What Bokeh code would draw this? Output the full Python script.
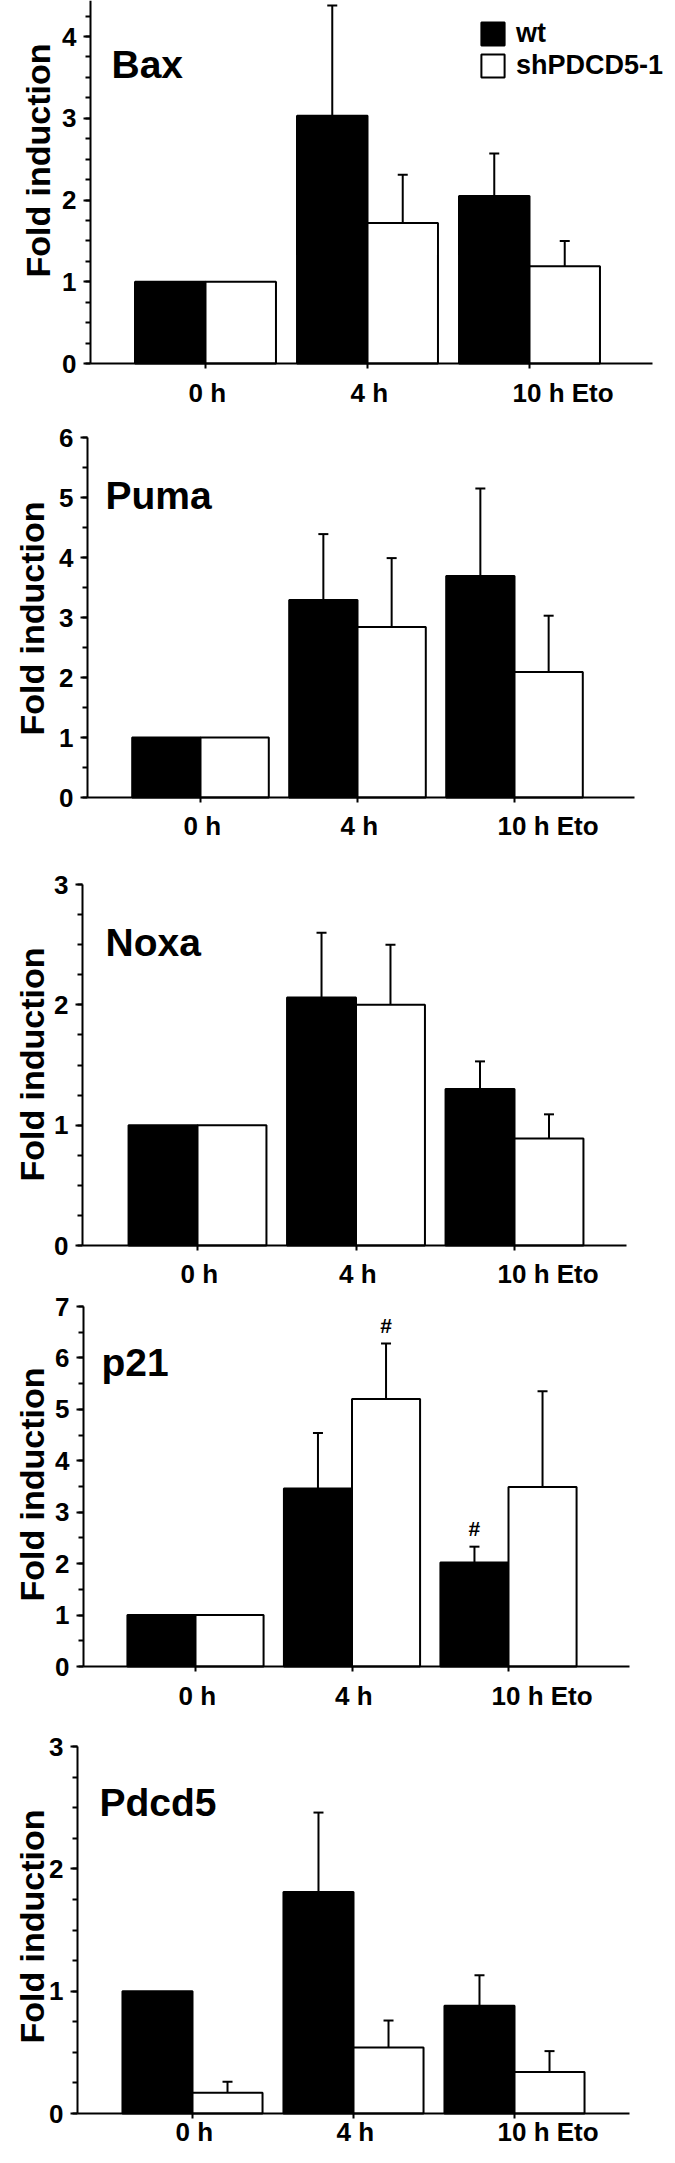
import math
import numpy as np
from bokeh.plotting import figure
from bokeh.models import (ColumnDataSource, Range1d, SingleIntervalTicker, FixedTicker,
                          Whisker, TeeHead, Label, CustomJSTickFormatter)
from bokeh.layouts import column
from bokeh.core.properties import value
from bokeh.embed import file_html
from bokeh.resources import INLINE

# ---------------- data ----------------
categories = ["0 h", "4 h", "10 h Eto"]
series_names = ["wt", "shPDCD5-1"]
genes = ["Bax", "Puma", "Noxa", "p21", "Pdcd5"]
y_title = "Fold induction"

bax_wt = [1.00, 3.03, 2.05]
bax_wt_err = [0.00, 1.35, 0.52]
bax_sh = [1.00, 1.72, 1.19]
bax_sh_err = [0.00, 0.59, 0.31]

puma_wt = [1.00, 3.29, 3.69]
puma_wt_err = [0.00, 1.10, 1.46]
puma_sh = [1.00, 2.84, 2.09]
puma_sh_err = [0.00, 1.15, 0.94]

noxa_wt = [1.00, 2.06, 1.30]
noxa_wt_err = [0.00, 0.54, 0.23]
noxa_sh = [1.00, 2.00, 0.89]
noxa_sh_err = [0.00, 0.50, 0.20]

p21_wt = [1.00, 3.46, 2.02]
p21_wt_err = [0.00, 1.08, 0.31]
p21_sh = [1.00, 5.20, 3.49]
p21_sh_err = [0.00, 1.08, 1.86]
p21_sig_wt = ["", "", "#"]
p21_sig_sh = ["", "#", ""]

pdcd5_wt = [1.00, 1.81, 0.88]
pdcd5_wt_err = [0.00, 0.65, 0.25]
pdcd5_sh = [0.17, 0.54, 0.34]
pdcd5_sh_err = [0.09, 0.22, 0.17]

y_axis_max = [4.5, 6, 3, 7, 3]
y_minor = [4, 2, 4, 2, 4]

# ---------------- layout (pixel positions on the page) ----------------
FONT = "Liberation Sans"
BAR_W = 0.435
PAGE_W = 675
MARGIN = 8
# top/bottom: figure edges; y0: zero line; ytop: pixel row of value ytop_val;
# ax: y-axis x; t0/t2: first/last category tick; ar: x-axis right end;
# lx/ly: baseline x and centre y of the rotated axis title
layouts = [
    dict(top=8, bottom=425, y0=371, ytop_val=4.0, ytop=44, ax=98, t0=213, t2=537, ar=660,
         lx=45, ly=168, tdx=21, tdy=299, cdy=29),
    dict(top=425, bottom=868, y0=805, ytop_val=6.0, ytop=445, ax=95, t0=208, t2=522, ar=642,
         lx=39, ly=626, tdx=18, tdy=302, cdy=28),
    dict(top=868, bottom=1299, y0=1253, ytop_val=3.0, ytop=892, ax=90, t0=205, t2=522, ar=634,
         lx=39, ly=1072, tdx=23, tdy=303, cdy=28),
    dict(top=1299, bottom=1735, y0=1674, ytop_val=7.0, ytop=1314, ax=91, t0=203, t2=516, ar=637,
         lx=39, ly=1492, tdx=18, tdy=304, cdy=29),
    dict(top=1735, bottom=2155, y0=2121, ytop_val=3.0, ytop=1754, ax=85, t0=200, t2=522, ar=637,
         lx=39, ly=1934, tdx=22, tdy=311, cdy=18),
]
LEGEND_LOC = (478, 336)


def make_panel(i, name, wt, wt_err, sh, sh_err, sig_wt=None, sig_sh=None, legend=False):
    lay = layouts[i]
    n = len(categories)
    ppx = (lay["t2"] - lay["t0"]) / (n - 1)              # px per category step
    ppu = (lay["y0"] - lay["ytop"]) / lay["ytop_val"]    # px per y unit
    x_start = -(lay["t0"] - MARGIN) / ppx
    x_axis = -(lay["t0"] - lay["ax"]) / ppx
    x_axis_end = (n - 1) + (lay["ar"] - lay["t2"]) / ppx
    x_end = (n - 1) + (PAGE_W - lay["t2"]) / ppx
    y_start = -(lay["bottom"] - lay["y0"]) / ppu
    y_end = (lay["y0"] - lay["top"]) / ppu

    p = figure(width=PAGE_W - MARGIN, height=lay["bottom"] - lay["top"],
               x_range=Range1d(x_start, x_end), y_range=Range1d(y_start, y_end),
               output_backend="svg", toolbar_location=None,
               min_border_left=0, min_border_right=0,
               min_border_top=0, min_border_bottom=0)
    p.outline_line_color = None
    p.xgrid.visible = False
    p.ygrid.visible = False
    p.background_fill_color = "white"
    p.border_fill_color = "white"

    idx = np.arange(n)
    groups = [(0, wt, wt_err, sig_wt, -BAR_W / 2, "black"),
              (1, sh, sh_err, sig_sh, BAR_W / 2, "white")]
    for k, vals, errs, sig, off, fill in groups:
        vals = np.array(vals, dtype=float)
        errs = np.array(errs, dtype=float)
        src = ColumnDataSource(dict(x=idx + off, top=vals))
        kw = dict(legend_label=series_names[k]) if legend else {}
        p.vbar(x="x", top="top", bottom=0, width=BAR_W, source=src,
               fill_color=fill, line_color="black", line_width=2, **kw)
        m = errs > 0
        esrc = ColumnDataSource(dict(base=(idx + off)[m], lower=vals[m], upper=(vals + errs)[m]))
        p.add_layout(Whisker(base="base", lower="lower", upper="upper", source=esrc,
                             lower_head=None,
                             upper_head=TeeHead(size=10, line_width=2, line_color="black"),
                             line_width=2, line_color="black", level="annotation"))
        if sig is not None:
            sm = np.array([s != "" for s in sig])
            ssrc = ColumnDataSource(dict(x=(idx + off)[sm], y=(vals + errs)[sm],
                                         t=[s for s in sig if s != ""]))
            p.text(x="x", y="y", text="t", source=ssrc, text_align="center",
                   text_baseline="bottom", y_offset=-7,
                   text_font=value(FONT), text_font_style="bold",
                   text_font_size="21px", text_color="black")

    # category labels below the x axis
    csrc = ColumnDataSource(dict(x=idx, y=np.zeros(n), t=categories))
    p.text(x="x", y="y", text="t", source=csrc, x_offset=-17, y_offset=lay["cdy"],
           text_align="left", text_baseline="middle",
           text_font=value(FONT), text_font_style="bold",
           text_font_size="26px", text_color="black")

    # axes
    for ax in (p.xaxis[0], p.yaxis[0]):
        ax.axis_line_width = 2
        ax.axis_line_color = "black"
        ax.major_tick_line_width = 2
        ax.major_tick_line_color = "black"
        ax.minor_tick_line_width = 2
        ax.minor_tick_line_color = "black"
        ax.major_tick_in = 0
        ax.minor_tick_in = 0

    xa = p.xaxis[0]
    xa.fixed_location = 0
    xa.bounds = (x_axis, x_axis_end)
    xa.ticker = FixedTicker(ticks=list(idx), minor_ticks=[])
    xa.formatter = CustomJSTickFormatter(code="return ''")
    xa.major_label_text_color = None
    xa.major_label_text_font_size = "1px"
    xa.major_tick_out = 5
    xa.minor_tick_out = 0
    xa.major_label_standoff = 0

    ya = p.yaxis[0]
    ya.fixed_location = x_axis
    ya.bounds = (0, y_axis_max[i])
    ya.ticker = SingleIntervalTicker(interval=1, num_minor_ticks=y_minor[i])
    ya.major_tick_out = 7
    ya.minor_tick_out = 5
    ya.major_label_standoff = 7
    ya.major_label_text_font = FONT
    ya.major_label_text_font_style = "bold"
    ya.major_label_text_font_size = "26px"
    ya.major_label_text_color = "black"

    # rotated y axis title
    p.add_layout(Label(x=x_axis, y=(lay["y0"] - lay["ly"]) / ppu,
                       x_offset=-(lay["ax"] - lay["lx"]), angle=math.pi / 2,
                       text=y_title, text_align="center", text_baseline="alphabetic",
                       text_font=FONT, text_font_style="bold", text_font_size="34px",
                       text_color="black"))

    # gene title, baseline tdy px above the zero line
    p.add_layout(Label(x=x_axis, y=0, x_offset=lay["tdx"], y_offset=lay["tdy"],
                       text=name, text_align="left", text_baseline="alphabetic",
                       text_font=FONT, text_font_style="bold", text_font_size="39px",
                       text_color="black"))

    if legend:
        lg = p.legend[0]
        lg.location = LEGEND_LOC
        lg.orientation = "vertical"
        lg.glyph_width = 29
        lg.glyph_height = 29
        lg.label_height = 29
        lg.label_standoff = 9
        lg.spacing = 1
        lg.padding = 0
        lg.margin = 0
        lg.border_line_color = None
        lg.background_fill_alpha = 0
        lg.label_text_font = FONT
        lg.label_text_font_style = "bold"
        lg.label_text_font_size = "27px"
        lg.label_text_color = "black"
    return p


panels = [
    make_panel(0, genes[0], bax_wt, bax_wt_err, bax_sh, bax_sh_err, legend=True),
    make_panel(1, genes[1], puma_wt, puma_wt_err, puma_sh, puma_sh_err),
    make_panel(2, genes[2], noxa_wt, noxa_wt_err, noxa_sh, noxa_sh_err),
    make_panel(3, genes[3], p21_wt, p21_wt_err, p21_sh, p21_sh_err, sig_wt=p21_sig_wt, sig_sh=p21_sig_sh),
    make_panel(4, genes[4], pdcd5_wt, pdcd5_wt_err, pdcd5_sh, pdcd5_sh_err),
]

layout = column(*panels, spacing=0)
open("out.html", "w").write(file_html(layout, INLINE))
